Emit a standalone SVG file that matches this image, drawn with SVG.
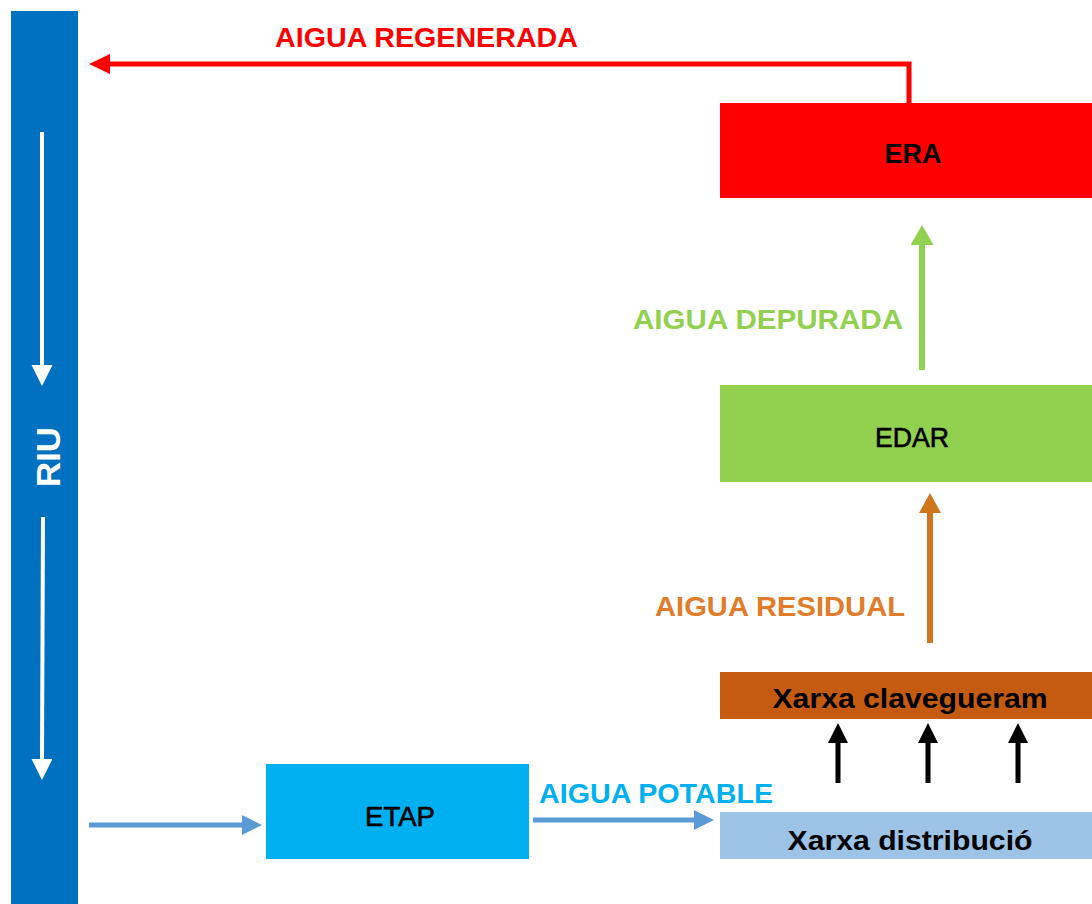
<svg xmlns="http://www.w3.org/2000/svg" width="1092" height="904" viewBox="0 0 1092 904">
<style>
.lbl{font-family:"Liberation Sans",Arial,sans-serif;font-weight:bold;font-size:28px;text-anchor:start}
.node{font-family:"Liberation Sans",Arial,sans-serif;font-size:27px;text-anchor:middle;fill:#000}
.b{font-weight:bold}
.med{stroke:#000;stroke-width:0.6px}
.ln{fill:none;stroke-linecap:butt;stroke-linejoin:miter}
</style>
<defs>
<marker id="mRed" markerUnits="userSpaceOnUse" markerWidth="22" markerHeight="22" refX="0" refY="10" orient="auto"><path d="M0,0 L21,10 L0,20 z" fill="#FF0000"/></marker>
<marker id="mGreen" markerUnits="userSpaceOnUse" markerWidth="24" markerHeight="24" refX="0" refY="11.5" orient="auto"><path d="M0,0 L20,11.5 L0,23 z" fill="#92D050"/></marker>
<marker id="mOrange" markerUnits="userSpaceOnUse" markerWidth="24" markerHeight="24" refX="0" refY="11" orient="auto"><path d="M0,0 L20,11 L0,22 z" fill="#D0741E"/></marker>
<marker id="mBlack" markerUnits="userSpaceOnUse" markerWidth="22" markerHeight="22" refX="0" refY="10" orient="auto"><path d="M0,0 L20,10 L0,20 z" fill="#000"/></marker>
<marker id="mBlue" markerUnits="userSpaceOnUse" markerWidth="22" markerHeight="22" refX="0" refY="10" orient="auto"><path d="M0,0 L20,10 L0,20 z" fill="#5B9BD5"/></marker>
<marker id="mWhite" markerUnits="userSpaceOnUse" markerWidth="24" markerHeight="24" refX="0" refY="10.5" orient="auto"><path d="M0,0 L21,10.5 L0,21 z" fill="#FFFFFF"/></marker>
</defs>
<rect width="1092" height="904" fill="#FFFFFF"/>

<g id="riu">
<rect x="11" y="11" width="67" height="893" fill="#0070C0"/>
<line class="ln" x1="42" y1="132" x2="42" y2="365" stroke="#FFFFFF" stroke-width="4" marker-end="url(#mWhite)"/>
<line class="ln" x1="43" y1="517" x2="42" y2="759" stroke="#FFFFFF" stroke-width="4" marker-end="url(#mWhite)"/>
<text class="node b" x="0" y="0" style="fill:#FFFFFF;font-size:34px" transform="translate(60,457) rotate(-90)" textLength="60" lengthAdjust="spacingAndGlyphs">RIU</text>
</g>

<g id="era">
<rect x="720" y="103" width="372" height="95" fill="#FF0000"/>
<text class="node b" x="913" y="163" textLength="57" lengthAdjust="spacingAndGlyphs">ERA</text>
</g>

<g id="edar">
<rect x="720" y="385" width="372" height="97" fill="#92D050"/>
<text class="node med" x="912" y="447" textLength="74" lengthAdjust="spacingAndGlyphs">EDAR</text>
</g>

<g id="clavegueram">
<rect x="720" y="672" width="372" height="47" fill="#C55A11"/>
<text class="node b" x="910" y="708" textLength="275" lengthAdjust="spacingAndGlyphs">Xarxa clavegueram</text>
</g>

<g id="distribucio">
<rect x="720" y="812" width="372" height="47" fill="#9DC3E6"/>
<text class="node b" x="910" y="850" textLength="245" lengthAdjust="spacingAndGlyphs">Xarxa distribució</text>
</g>

<g id="etap">
<rect x="266" y="764" width="263" height="95" fill="#00B0F0"/>
<text class="node med" x="400" y="826" textLength="70" lengthAdjust="spacingAndGlyphs">ETAP</text>
</g>

<g id="connectors">
<polyline class="ln" points="909,103 909,64 110,64" stroke="#FF0000" stroke-width="5" marker-end="url(#mRed)"/>
<line class="ln" x1="922" y1="370" x2="922" y2="245" stroke="#92D050" stroke-width="6" marker-end="url(#mGreen)"/>
<line class="ln" x1="930" y1="643" x2="930" y2="513" stroke="#D0741E" stroke-width="6" marker-end="url(#mOrange)"/>
<line class="ln" x1="838" y1="783" x2="838" y2="743" stroke="#000" stroke-width="5" marker-end="url(#mBlack)"/>
<line class="ln" x1="928" y1="783" x2="928" y2="743" stroke="#000" stroke-width="5" marker-end="url(#mBlack)"/>
<line class="ln" x1="1018" y1="783" x2="1018" y2="743" stroke="#000" stroke-width="5" marker-end="url(#mBlack)"/>
<line class="ln" x1="89" y1="825" x2="242" y2="825" stroke="#5B9BD5" stroke-width="5" marker-end="url(#mBlue)"/>
<line class="ln" x1="533" y1="820" x2="694" y2="820" stroke="#5B9BD5" stroke-width="5" marker-end="url(#mBlue)"/>
</g>

<g id="labels">
<text class="lbl" x="275" y="47" fill="#FF0000" textLength="303" lengthAdjust="spacingAndGlyphs">AIGUA REGENERADA</text>
<text class="lbl" x="633" y="329" fill="#92D050" textLength="270" lengthAdjust="spacingAndGlyphs">AIGUA DEPURADA</text>
<text class="lbl" x="655" y="616" fill="#E07C2A" textLength="250" lengthAdjust="spacingAndGlyphs">AIGUA RESIDUAL</text>
<text class="lbl" x="539" y="803" fill="#00B0F0" textLength="234" lengthAdjust="spacingAndGlyphs">AIGUA POTABLE</text>
</g>
</svg>
